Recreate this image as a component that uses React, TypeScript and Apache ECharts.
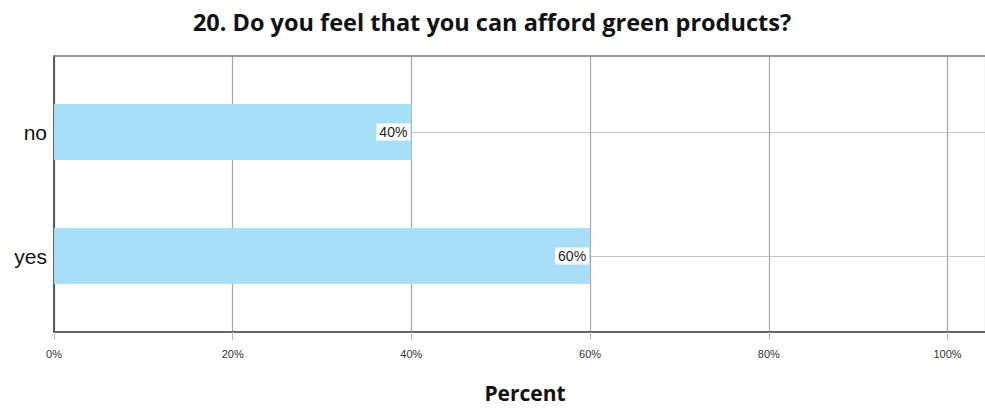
import React, { useEffect, useRef } from "react";
import * as echarts from "echarts";

const titleText = "20. Do you feel that you can afford green products?";
const categories = ["yes", "no"];
const percentValues = [60, 40];
const axisMax = 104.2;
const tickStep = 20;

export default function App() {
  const ref = useRef<HTMLDivElement>(null);
  useEffect(() => {
    if (!ref.current) return;
    const chart = echarts.init(ref.current, null, { renderer: "svg" });
    chart.setOption({
      animation: false,
      backgroundColor: "#ffffff",
      title: {
        text: titleText,
        left: 487,
        textAlign: "center",
        top: 5,
        textStyle: { fontFamily: "Open Sans", fontWeight: "bold", fontSize: 23.5, color: "#111" },
      },
      grid: [
        { left: 54, top: 56, width: 931, height: 276 },
        { left: 54, top: 132, width: 931, height: 124 },
      ],
      xAxis: [
        {
          gridIndex: 0,
          type: "value",
          min: 0,
          max: axisMax,
          interval: tickStep,
          name: "Percent",
          nameLocation: "middle",
          nameGap: 50,
          nameTextStyle: {
            fontFamily: "Open Sans",
            fontWeight: "bold",
            fontSize: 21,
            color: "#111",
            padding: [0, 0, 0, 11],
          },
          axisLine: { show: true, lineStyle: { color: "#333", width: 1.5 } },
          axisTick: { show: true, length: 8, lineStyle: { color: "#bbb" } },
          axisLabel: {
            fontFamily: "Liberation Sans",
            fontSize: 11,
            color: "#333",
            margin: 16,
            showMaxLabel: false,
            formatter: (v: number) => (v % tickStep === 0 ? v + "%" : ""),
          },
          splitLine: { show: true, lineStyle: { color: "#a8a8a8", width: 1.2 } },
        },
        {
          gridIndex: 0,
          type: "value",
          position: "top",
          min: 0,
          max: axisMax,
          axisLine: { show: true, lineStyle: { color: "#777", width: 1.5 } },
          axisTick: { show: false },
          axisLabel: { show: false },
          splitLine: { show: false },
        },
        {
          gridIndex: 1,
          type: "value",
          min: 0,
          max: axisMax,
          show: false,
        },
      ],
      yAxis: [
        {
          gridIndex: 0,
          type: "value",
          axisLine: { show: true, lineStyle: { color: "#333", width: 1.5 } },
          axisTick: { show: false },
          axisLabel: { show: false },
          splitLine: { show: false },
        },
        {
          gridIndex: 1,
          type: "category",
          data: categories,
          boundaryGap: false,
          axisLine: { show: false },
          axisTick: { show: false },
          axisLabel: { fontFamily: "Liberation Sans", fontSize: 21, color: "#111", margin: 7 },
          splitLine: { show: true, lineStyle: { color: "#c8c8c8", width: 1.2 } },
        },
      ],
      series: [
        {
          type: "bar",
          xAxisIndex: 2,
          yAxisIndex: 1,
          data: percentValues,
          barWidth: 56,
          itemStyle: { color: "#a9def9" },
          label: {
            show: true,
            position: "insideRight",
            distance: 1,
            formatter: "{c}%",
            fontFamily: "Liberation Sans",
            fontSize: 14,
            color: "#222",
            backgroundColor: "#ffffff",
            padding: [2, 3, 1, 3],
          },
        },
      ],
    });
    return () => chart.dispose();
  }, []);
  return <div ref={ref} style={{ width: 985, height: 408, position: "absolute", left: 0, top: 0 }} />;
}
